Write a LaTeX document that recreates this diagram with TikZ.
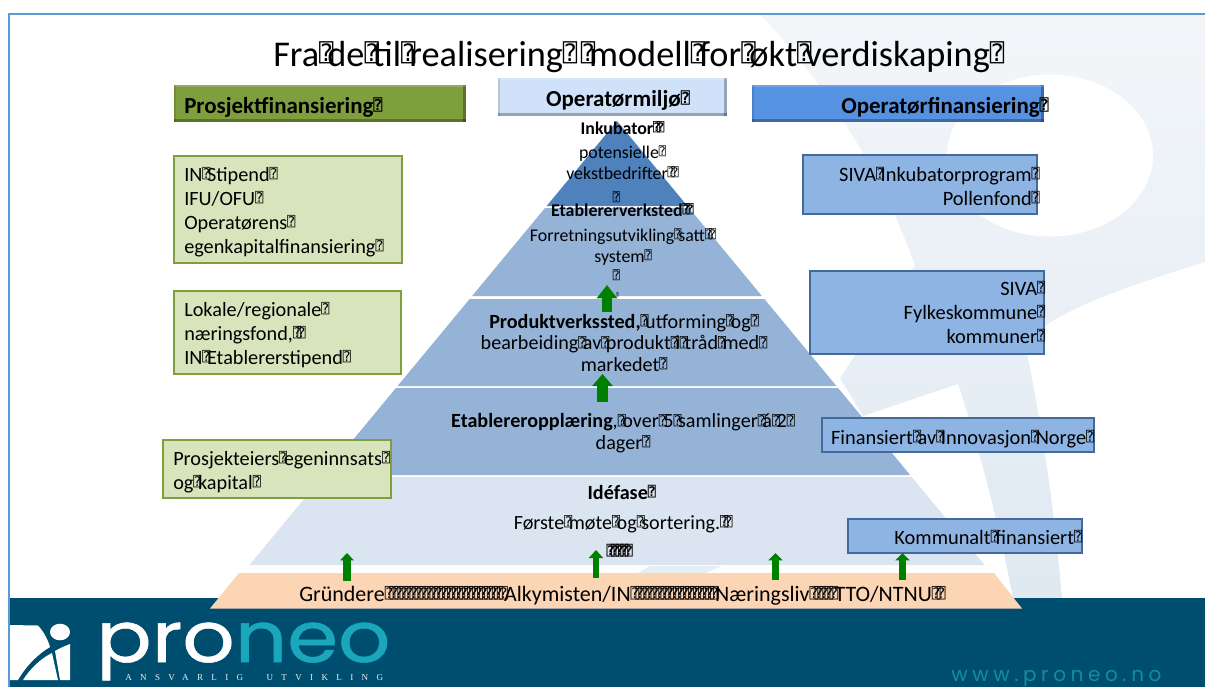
\documentclass[tikz,border=0pt]{standalone}
\usepackage{fontspec}
\usetikzlibrary{arrows.meta}
\setmainfont{Carlito}
\newfontfamily\tofufont{DejaVu Sans Mono}
\newfontfamily\logofont[FakeBold=0.7]{Poppins}
\newfontfamily\ansfont[LetterSpace=92]{Liberation Serif}
\newfontfamily\wwwfont[LetterSpace=23]{Poppins}
\newcommand\q{\rlap{\raisebox{.13em}{\tofufont\scalebox{.66}{⍰}}}\hspace{.226em}}
\newcommand\qrun[1]{\foreach\qi in {1,...,#1}{\q}}
\definecolor{framebl}{HTML}{5B9BD5}
\definecolor{foot}{HTML}{004E6F}
\definecolor{wmtop}{HTML}{F3F6F9}
\definecolor{wmbot}{HTML}{DFE9F2}
\definecolor{wm}{HTML}{E6EEF4}
\definecolor{tierA}{HTML}{4F81BD}
\definecolor{tierB}{HTML}{95B3D7}
\definecolor{tierC}{HTML}{DBE5F1}
\definecolor{bandc}{HTML}{FCD5B5}
\definecolor{grnfill}{HTML}{D8E4BC}
\definecolor{grnline}{HTML}{7F9F3F}
\definecolor{blufill}{HTML}{8EB4E3}
\definecolor{bluline}{HTML}{44699B}
\definecolor{arrowg}{HTML}{008000}
\definecolor{neoc}{HTML}{1AA7BC}
\definecolor{wwwc}{HTML}{128CA3}
\tikzset{
  greenbox/.style={draw=grnline,line width=1.3pt,fill=grnfill},
  bluebox/.style={draw=bluline,line width=1.1pt,fill=blufill},
  bodytxt/.style={font=\fontsize{15.2}{18}\selectfont,inner sep=0pt,align=left},
  rtxt/.style={font=\fontsize{15.3}{18}\selectfont,inner sep=0pt,align=right},
  ptop/.style={font=\fontsize{13.4}{15.6}\selectfont,inner sep=0pt,align=center},
  plow/.style={font=\fontsize{15.1}{16}\selectfont,inner sep=0pt,align=center},
  bandtxt/.style={font=\fontsize{16.5}{18}\selectfont,inner sep=0pt},
  headtxt/.style={font=\fontsize{17.2}{18}\selectfont\bfseries,inner sep=0pt},
  bevel/.style={path picture={
    \fill[black,fill opacity=.28] (path picture bounding box.south west) rectangle ([yshift=2.2pt]path picture bounding box.south east);
    \fill[black,fill opacity=.28] (path picture bounding box.north east) rectangle ([xshift=-2.2pt]path picture bounding box.south east);
    \fill[black,fill opacity=.12] (path picture bounding box.north west) rectangle ([xshift=1.5pt]path picture bounding box.south west);
    \fill[white,fill opacity=.15] (path picture bounding box.north west) rectangle ([yshift=-1.5pt]path picture bounding box.north east);
  }},
}
\begin{document}
\begin{tikzpicture}[x=.75pt,y=-.75pt]
\useasboundingbox (0,0) rectangle (1205,687);
% watermark
\shade[top color=wmtop,bottom color=wmbot] (760,14) -- (1205,14) -- (1205,262) .. controls (1130,285) and (1075,305) .. (1043,327) -- (1027,354)
  .. controls (1045,440) and (1055,520) .. (1062,598) -- (1013,598)
  .. controls (1000,530) and (980,450) .. (958,384) -- (863,416) -- (840,378) -- (915,265)
  .. controls (880,170) and (830,90) .. (760,14) -- cycle;
\fill[white] (1050,155.5) ellipse [x radius=103,y radius=81];
% frame and footer
\fill[foot] (9,598) rectangle (1205,687);
\draw[framebl,line width=1.5pt] (9,687) -- (9,14) -- (1205,14);
% title
\node[font=\fontsize{27.2}{30}\selectfont,inner sep=0pt,anchor=base west] (title) at (273,66) {Fra\q de\q til\q realisering\q\hspace{.27em}\q modell\q for\q økt\q verdiskaping\q};
% pyramid
\fill[tierC] (617-.828*356,477) -- (617+.828*356,477) -- (617+.828*444,565) -- (617-.828*444,565) -- cycle;
\fill[tierB] (617-.828*267,388) -- (617+.828*267,388) -- (617+.828*354,475) -- (617-.828*354,475) -- cycle;
\fill[tierB] (617-.828*178,299) -- (617+.828*178,299) -- (617+.828*265,386) -- (617-.828*265,386) -- cycle;
\fill[tierB] (617-.828*87,208) -- (617+.828*87,208) -- (617+.828*175,296) -- (617-.828*175,296) -- cycle;
\fill[tierA] (617,121) -- (617+.828*85,206) -- (617-.828*85,206) -- cycle;
\fill[wm] (638,573) -- (650,566) -- (722,566) -- (705,573) -- cycle;
% band
\fill[bandc] (239,573) -- (994,573) -- (1022,608.5) -- (210,608.5) -- cycle;
% header boxes
\node[bevel,fill=grnline,minimum width=292*.75pt,minimum height=37*.75pt,inner sep=0pt] (hL) at (320,103.5) {};
\node[bevel,fill={rgb,255:red,207;green,226;blue,250},minimum width=229*.75pt,minimum height=38*.75pt,inner sep=0pt] (hM) at (612.5,97) {};
\node[bevel,fill={rgb,255:red,86;green,146;blue,226},minimum width=292*.75pt,minimum height=37*.75pt,inner sep=0pt] (hR) at (898,103.5) {};
\node[headtxt,anchor=base west] (hLt) at (184,113) {Prosjektfinansiering\q};
\node[headtxt,anchor=base] (hMt) at (613.5,106) {Operatørmiljø\q};
\node[headtxt,anchor=base east] (hRt) at (1040,113) {Operatørfinansiering\q};
% left boxes
\node[greenbox,minimum width=228*.75pt,minimum height=107*.75pt,inner sep=0pt] (L1) at (288,209.5) {};
\node[greenbox,minimum width=227*.75pt,minimum height=83*.75pt,inner sep=0pt] (L2) at (287.5,332.5) {};
\node[greenbox,minimum width=228*.75pt,minimum height=58*.75pt,inner sep=0pt] (L3) at (277,469) {};
\node[bodytxt,anchor=base west] (L1t) at (184,253) {IN\q Stipend\q\\IFU/OFU\q\\Operatørens\q\\egenkapitalfinansiering\q};
\node[bodytxt,anchor=base west] (L2t) at (184,364) {Lokale/regionale\q\\næringsfond,\q\q\\IN\q Etablererstipend\q};
\node[bodytxt,anchor=base west] (L3t) at (173,489) {Prosjekteiers\q egeninnsats\q\\og\q kapital\q};
% right boxes
\node[bluebox,minimum width=234*.75pt,minimum height=59*.75pt,inner sep=0pt] (R1) at (920,184.5) {};
\node[bluebox,minimum width=234*.75pt,minimum height=83*.75pt,inner sep=0pt] (R2) at (927,312.5) {};
\node[bluebox,minimum width=272*.75pt,minimum height=34*.75pt,inner sep=0pt] (R3) at (958,435) {};
\node[bluebox,minimum width=234*.75pt,minimum height=34*.75pt,inner sep=0pt] (R4) at (965,536) {};
\node[rtxt,anchor=base east] (R1t) at (1032,205) {SIVA\q Inkubatorprogram\q\\Pollenfond\q};
\node[rtxt,anchor=base east] (R2t) at (1037.5,343) {SIVA\q\\Fylkeskommune\q\\kommuner\q};
\node[rtxt,anchor=base east] (R3t) at (1091,444) {Finansiert\q av\q Innovasjon\q Norge\q};
\node[rtxt,anchor=base east] (R4t) at (1079,544) {Kommunalt\q finansiert\q};
% pyramid texts
\node[ptop,anchor=base] (t1) at (621,134) {\bfseries Inkubator\q\q};
\node[ptop,anchor=base] (t2) at (619,179) {potensielle\q\\vekstbedrifter\q\q};
\node[ptop,anchor=base] (t3) at (615,204) {\q};
\node[ptop,anchor=base] (t4) at (621,216) {\bfseries Etablererverksted\q\q};
\node[ptop,anchor=base] (t5) at (619.5,262) {Forretningsutvikling\q satt\q\q\\system\q};
\node[ptop,anchor=base] (t6) at (615,282) {\q};
\node[font=\fontsize{5}{6}\selectfont,inner sep=0pt,anchor=base] (t6b) at (616,297) {\q};
\node[plow,anchor=base] (t7) at (620,371) {\textbf{Produktverkssted,}\q utforming\q og\q\\bearbeiding\q av\q produkt\q i\q tråd\q med\q\\markedet\q};
\node[plow,anchor=base] (t8) at (619,449) {\textbf{Etablereropplæring},\q over\q 5\q samlinger\q á\q 2\q\\dager\q};
\node[plow,anchor=base] (t9) at (620,499) {\bfseries Idéfase\q};
\node[plow,anchor=base] (t10) at (621.5,529) {Første\q møte\q og\q sortering.\q\q};
\node[plow,anchor=base] (t11) at (618,558) {\bfseries\q\q\q\q\q};
\node[bandtxt,anchor=base west] (band) at (299,601) {Gründere\qrun{24}Alkymisten/IN\qrun{17}Næringsliv\qrun{5}TTO/NTNU\q\q};
% arrows
\coordinate (a1s) at (607,312); \coordinate (a1e) at (607,285);
\coordinate (a2s) at (602.5,402); \coordinate (a2e) at (602.5,374);
\coordinate (a3s) at (347,581); \coordinate (a3e) at (347,553);
\coordinate (a4s) at (596,578); \coordinate (a4e) at (596,550);
\coordinate (a5s) at (775.5,580); \coordinate (a5e) at (775.5,553);
\coordinate (a6s) at (902.5,580); \coordinate (a6e) at (902.5,553);
\draw[draw=arrowg,line width=7.5pt,-{Triangle[length=10pt,width=15pt]}] (a1s) -- (a1e);
\draw[draw=arrowg,line width=8pt,-{Triangle[length=9pt,width=15pt]}] (a2s) -- (a2e);
\draw[draw=arrowg,line width=5.4pt,-{Triangle[length=5.5pt,width=10pt]}] (a3s) -- (a3e);
\draw[draw=arrowg,line width=5pt,-{Triangle[length=6pt,width=10.5pt]}] (a4s) -- (a4e);
\draw[draw=arrowg,line width=5.4pt,-{Triangle[length=5.5pt,width=10.5pt]}] (a5s) -- (a5e);
\draw[draw=arrowg,line width=5.4pt,-{Triangle[length=5.5pt,width=10.5pt]}] (a6s) -- (a6e);
% logo mark
\fill[white] (10,625) -- (38,625.5) .. controls (44,632) and (48,640) .. (50,647) .. controls (38,654) and (26,666) .. (18,680) -- (10,680) -- cycle;
\fill[white] (23,680) .. controls (30,669) and (40,659) .. (52,653) -- (58,680) -- cycle;
\fill[white] (55,651) .. controls (60,648) and (65,646) .. (70,644) -- (70,680) -- (60,680) -- cycle;
\fill[white] (60,632) ellipse [x radius=10,y radius=8.3];
% logo text
\node[font=\fontsize{53}{53}\logofont,text=white,inner sep=0pt,anchor=base west,xscale=1.16] (pro) at (96,662) {pro\textcolor{neoc}{neo}};
\node[font=\fontsize{6.8}{8}\ansfont,text=black!8,inner sep=0pt,anchor=base west] (ans) at (125,680) {ANSVARLIG\hspace{1.4em} UTVIKLING};
\node[font=\fontsize{15}{16}\wwwfont,text=wwwc,inner sep=0pt,anchor=base west] (www) at (951,681) {www.proneo.no};
\end{tikzpicture}
\end{document}
